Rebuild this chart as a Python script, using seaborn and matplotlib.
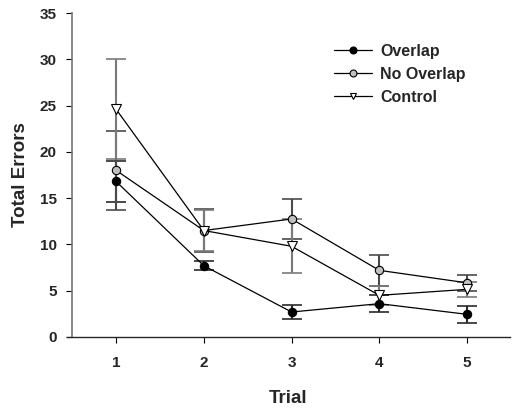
import matplotlib
matplotlib.use("Agg")
import matplotlib.pyplot as plt
import seaborn as sns
import pandas as pd

trials = [1, 2, 3, 4, 5]
overlap = [16.8, 7.7, 2.7, 3.6, 2.45]
overlap_err = [2.2, 0.5, 0.75, 0.9, 0.9]
no_overlap = [18.0, 11.5, 12.75, 7.2, 5.85]
no_overlap_err = [4.25, 2.3, 2.15, 1.65, 0.9]
control = [24.6, 11.5, 9.8, 4.5, 5.15]
control_err = [5.4, 2.2, 2.9, 1.0, 0.8]
y_ticks = [0, 5, 10, 15, 20, 25, 30, 35]

sns.set_style("ticks")
plt.rcParams['font.family'] = ['Liberation Sans', 'DejaVu Sans']

fig = plt.figure(figsize=(5.14, 4.13), dpi=100)
ax = fig.add_axes([67/514, 76/413, 443/514, 324/413])

series = [
    ("Overlap", overlap, overlap_err, "o", "black", "#2a2a2a"),
    ("No Overlap", no_overlap, no_overlap_err, "o", "#c0c0c0", "#4a4a4a"),
    ("Control", control, control_err, "v", "white", "#7a7a7a"),
]

for name, vals, errs, mk, fc, ec in series:
    ax.errorbar(trials, vals, yerr=errs, fmt="none", ecolor=ec, elinewidth=1.5,
                capsize=7, capthick=1.2, zorder=2)

for name, vals, errs, mk, fc, ec in series:
    df = pd.DataFrame({"Trial": trials, "Total Errors": vals})
    sns.lineplot(data=df, x="Trial", y="Total Errors", ax=ax, color="black",
                 linewidth=0.9, marker=mk, markersize=6 if mk == "o" else 6.5,
                 markerfacecolor=fc, markeredgecolor="black", markeredgewidth=0.8,
                 label=name, zorder=3)

ax.set_xlim(0.44, 5.49)
ax.set_ylim(0, 35)
ax.set_xticks(trials)
ax.set_yticks(y_ticks)
ax.spines['top'].set_visible(False)
ax.spines['right'].set_visible(False)
ax.spines['left'].set_position(('data', 0.5))
ax.spines['left'].set_color('#777777')
ax.spines['left'].set_linewidth(1.2)
ax.spines['bottom'].set_linewidth(1.0)
ax.tick_params(axis='both', direction='out', length=4, width=0.8, color='black',
               labelsize=11)
for lab in ax.get_xticklabels() + ax.get_yticklabels():
    lab.set_fontweight('bold')
ax.tick_params(axis='x', pad=10)
ax.tick_params(axis='y', pad=7)
ax.set_xlabel("Trial", fontsize=13.5, fontweight='bold', labelpad=14)
ax.set_ylabel("Total Errors", fontsize=13.5, fontweight='bold', labelpad=8)

leg = ax.legend(loc='upper left', bbox_to_anchor=(0.57, 0.95), frameon=False,
                handlelength=2.4, handletextpad=0.5, labelspacing=0.5,
                prop={'weight': 'bold', 'size': 11.5})
for h in leg.legend_handles:
    h.set_markersize(5)

fig.savefig("out.png", dpi=100)
